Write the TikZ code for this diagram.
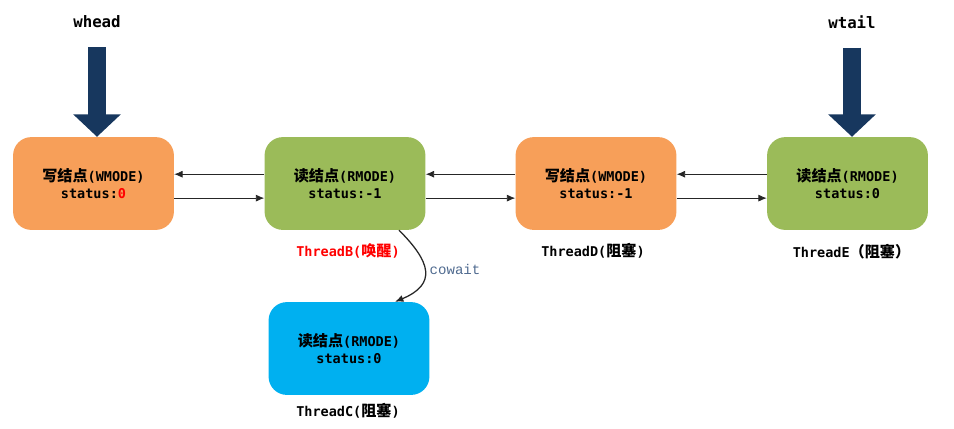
\documentclass[tikz,border=0pt]{standalone}
\usepackage{fontspec}
\setmainfont{DejaVu Sans Mono}
\newfontfamily\cjk{Noto Sans CJK SC}[Scale=1.12]
\newfontfamily\waitfont{Liberation Mono}
\usetikzlibrary{calc,arrows.meta}

\definecolor{wnode}{HTML}{F79F59}
\definecolor{rnode}{HTML}{9BBB59}
\definecolor{cnode}{HTML}{00B0F0}
\definecolor{ptr}{HTML}{17375E}
\definecolor{waitcol}{HTML}{4F6A8F}

\newcommand{\zh}[1]{{\cjk\bfseries #1}}

\begin{document}
\begin{tikzpicture}[x=0.025cm, y=-0.025cm, font=\fontsize{9.6}{11.7}\selectfont\bfseries]
    \useasboundingbox (0,0) rectangle (954,428);
    \tikzset{
        qnode/.style={rectangle, rounded corners=13pt, minimum width=4.02cm, minimum height=2.32cm, align=center},
        link/.style={draw=black!85, line width=0.6pt, -{Latex[length=6pt, width=5pt]}},
        pointer/.style={draw=ptr, line width=12.5pt, -{Triangle[length=16pt, width=33pt]}},
        tlabel/.style={}
    }

    % queue nodes
    \node[qnode, fill=wnode] (a) at (93.5,183.5) {\zh{写结点}(WMODE)\\status:{\color{red}0}};
    \node[qnode, fill=rnode] (b) at (345,183.5) {\zh{读结点}(RMODE)\\status:-1};
    \node[qnode, fill=wnode] (d) at (596,183.5) {\zh{写结点}(WMODE)\\status:-1};
    \node[qnode, fill=rnode] (e) at (847.5,183.5) {\zh{读结点}(RMODE)\\status:0};

    % cowait node
    \node[qnode, fill=cnode] (c) at (349,348.5) {\zh{读结点}(RMODE)\\status:0};

    % prev / next links
    \foreach \l/\r in {a/b, b/d, d/e} {
        \draw[link] ([yshift=6.6pt]\r.west) -- ([yshift=6.6pt]\l.east);
        \draw[link] ([yshift=-10.4pt]\l.east) -- ([yshift=-10.4pt]\r.west);
    }

    % head and tail pointers
    \node[font=\fontsize{11.2}{13}\selectfont\bfseries] (whead) at (97,22) {whead};
    \node[font=\fontsize{11.2}{13}\selectfont\bfseries] (wtail) at (852,22) {wtail};
    \draw[pointer, shorten <=10pt] (whead.south) -- (whead.south |- a.north);
    \draw[pointer, shorten <=10pt] (wtail.south) -- (wtail.south |- e.north);

    % thread labels
    \node[tlabel, text=red] (tb) at ($(b.south)+(3,21)$) {ThreadB(\zh{唤醒})};
    \node[tlabel] (td) at ($(d.south)+(-3,21)$) {ThreadD(\zh{阻塞})};
    \node[tlabel] (te) at ($(e.south)+(4,21)$) {ThreadE\zh{（阻塞）}};
    \node[tlabel] (tc) at ($(c.south)+(-1,16)$) {ThreadC(\zh{阻塞})};

    % cowait
    \draw[draw=black!85, line width=0.9pt, -{Latex[length=6pt, width=5pt]}]
        ($(b.south)+(54,0)$) .. controls ($(b.south)+(86,32)$) and ($(b.south)+(92,54)$) .. ($(c.north)+(46,0)$);
    \node[text=waitcol, font=\waitfont\fontsize{10}{12}\selectfont] (cw) at (455,269) {cowait};

\end{tikzpicture}
\end{document}
